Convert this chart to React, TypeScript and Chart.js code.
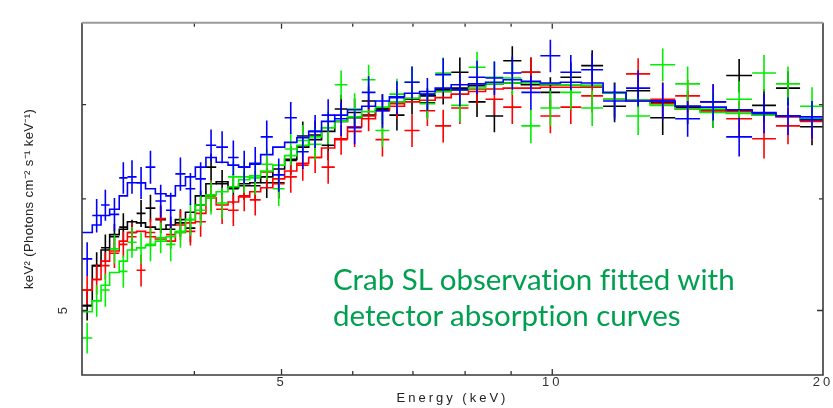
import React, { useEffect, useRef } from "react";
import { Chart, registerables } from "chart.js";

Chart.register(...registerables);

// Energy bin edges (keV), shared by all four spectra
const binEdges = [
  3.0, 3.08, 3.15, 3.22, 3.3, 3.37, 3.45, 3.53, 3.62, 3.72, 3.81, 3.91, 4.01,
  4.12, 4.23, 4.36, 4.48, 4.61, 4.74, 4.89, 5.04, 5.2, 5.36, 5.54, 5.73, 5.92,
  6.14, 6.36, 6.59, 6.85, 7.12, 7.41, 7.72, 8.07, 8.43, 8.82, 9.24, 9.7, 10.21,
  10.77, 11.39, 12.08, 12.85, 13.7, 14.6, 15.61, 16.68, 17.73, 18.86, 20.05,
];

// Black spectrum
const blackFlux = [
  5.04, 5.38, 5.54, 5.64, 5.73, 5.68, 5.86, 5.91, 5.8, 5.71, 5.77, 5.72, 5.94,
  6.32, 6.15, 6.1, 6.13, 6.13, 6.16, 6.16, 6.39, 6.65, 6.66, 6.55, 6.95,
  6.91, 7.04, 6.95, 6.88, 7.06, 7.02, 7.17, 7.38, 7.03, 6.87, 7.52, 7.38,
  7.14, 7.32, 7.46, 6.98, 7.16, 6.85, 6.97, 6.93, 7.34, 6.99, 7.19, 6.75,
];
const blackErr = [
  0.12, 0.12, 0.12, 0.12, 0.13, 0.12, 0.13, 0.13, 0.13, 0.12, 0.13, 0.13, 0.14,
  0.14, 0.14, 0.15, 0.14, 0.15, 0.15, 0.15, 0.15, 0.16, 0.16, 0.16, 0.16,
  0.16, 0.17, 0.17, 0.17, 0.17, 0.17, 0.17, 0.18, 0.17, 0.18, 0.18, 0.18,
  0.18, 0.18, 0.19, 0.18, 0.19, 0.19, 0.19, 0.19, 0.2, 0.19, 0.2, 0.2,
];
const blackModel = [
  5.04, 5.38, 5.52, 5.66, 5.71, 5.78, 5.77, 5.73, 5.71, 5.75, 5.8, 5.87, 6.03,
  6.15, 6.17, 6.11, 6.15, 6.16, 6.22, 6.3, 6.4, 6.53, 6.61, 6.7, 6.81,
  6.85, 6.88, 6.95, 7.03, 7.07, 7.1, 7.15, 7.19, 7.22, 7.24, 7.25, 7.23,
  7.23, 7.23, 7.22, 7.13, 7.05, 7.02, 6.98, 6.94, 6.93, 6.9, 6.87, 6.84,
];

// Red spectrum
const redFlux = [
  5.17, 5.26, 5.38, 5.49, 5.57, 5.64, 5.34, 5.68, 5.81, 5.66, 5.75, 5.69, 5.78,
  6.03, 5.9, 5.89, 6.03, 5.99, 6.27, 6.15, 6.22, 6.34, 6.42, 6.32, 6.61,
  6.7, 6.87, 6.61, 7.01, 6.71, 6.93, 6.76, 6.96, 7.18, 7.06, 6.97, 7.38,
  6.87, 6.97, 7.1, 7.06, 7.36, 7.06, 7.1, 7.03, 6.84, 6.62, 6.76, 6.81,
];
const redErr = [
  0.12, 0.13, 0.12, 0.13, 0.12, 0.13, 0.14, 0.13, 0.13, 0.13, 0.14, 0.13, 0.14,
  0.15, 0.14, 0.15, 0.15, 0.15, 0.16, 0.15, 0.16, 0.16, 0.16, 0.17, 0.16,
  0.17, 0.17, 0.18, 0.17, 0.18, 0.17, 0.18, 0.18, 0.18, 0.18, 0.19, 0.18,
  0.19, 0.19, 0.19, 0.2, 0.19, 0.2, 0.19, 0.2, 0.2, 0.21, 0.2, 0.21,
];
const redModel = [
  5.17, 5.26, 5.42, 5.51, 5.6, 5.68, 5.69, 5.64, 5.62, 5.6, 5.68, 5.77, 5.86,
  6.01, 5.94, 5.97, 6.02, 6.07, 6.11, 6.2, 6.28, 6.36, 6.42, 6.52, 6.62,
  6.75, 6.84, 6.93, 6.98, 7.03, 7.05, 7.08, 7.12, 7.15, 7.18, 7.19, 7.19,
  7.2, 7.2, 7.2, 7.13, 7.04, 7.01, 6.95, 6.93, 6.92, 6.88, 6.86, 6.82,
];

// Green spectrum
const greenFlux = [
  4.78, 5.08, 5.17, 5.53, 5.33, 5.59, 5.54, 5.57, 5.63, 5.57, 5.68, 5.8, 5.89,
  6.01, 5.96, 6.22, 6.22, 6.21, 6.35, 6.1, 6.51, 6.6, 6.56, 6.74, 7.23,
  6.95, 7.29, 6.71, 7.12, 7.26, 7.01, 7.37, 6.99, 7.44, 7.32, 7.31, 6.76,
  6.96, 7.14, 6.96, 7.06, 6.87, 7.47, 7.24, 6.95, 7.06, 7.37, 7.24, 6.98,
];
const greenErr = [
  0.12, 0.13, 0.14, 0.13, 0.14, 0.14, 0.14, 0.15, 0.14, 0.15, 0.14, 0.15, 0.15,
  0.16, 0.15, 0.16, 0.16, 0.17, 0.16, 0.17, 0.17, 0.17, 0.17, 0.18, 0.17,
  0.18, 0.18, 0.18, 0.18, 0.19, 0.18, 0.19, 0.19, 0.19, 0.19, 0.2, 0.19,
  0.2, 0.2, 0.2, 0.2, 0.21, 0.2, 0.21, 0.21, 0.21, 0.22, 0.21, 0.22,
];
const greenModel = [
  4.99, 5.08, 5.21, 5.32, 5.42, 5.52, 5.54, 5.56, 5.6, 5.64, 5.69, 5.8, 5.94,
  6.04, 6.07, 6.12, 6.19, 6.23, 6.28, 6.34, 6.44, 6.55, 6.64, 6.74, 6.81,
  6.86, 6.92, 6.97, 7.03, 7.07, 7.12, 7.15, 7.17, 7.19, 7.24, 7.25, 7.25,
  7.24, 7.23, 7.22, 7.13, 7.05, 6.99, 6.95, 6.91, 6.9, 6.88, 6.87, 6.84,
];

// Blue spectrum
const blueFlux = [
  5.44, 5.84, 5.94, 5.85, 6.21, 6.22, 6.16, 6.32, 5.98, 5.89, 6.25, 6.1, 6.2,
  6.55, 6.53, 6.42, 6.32, 6.35, 6.64, 6.24, 6.85, 6.48, 6.7, 6.88, 6.84,
  6.74, 7.14, 6.93, 7.08, 7.26, 7.12, 7.35, 7.17, 7.32, 7.31, 7.37, 7.14,
  7.58, 7.38, 7.41, 7.04, 7.19, 7.04, 6.84, 7.03, 6.64, 6.9, 6.87, 6.83,
];
const blueErr = [
  0.15, 0.16, 0.15, 0.16, 0.16, 0.17, 0.16, 0.17, 0.16, 0.17, 0.17, 0.16, 0.17,
  0.17, 0.17, 0.18, 0.17, 0.18, 0.18, 0.17, 0.18, 0.18, 0.18, 0.18, 0.19,
  0.18, 0.19, 0.19, 0.19, 0.19, 0.19, 0.2, 0.19, 0.2, 0.2, 0.2, 0.2,
  0.2, 0.21, 0.2, 0.21, 0.21, 0.21, 0.2, 0.21, 0.21, 0.22, 0.21, 0.21,
];
const blueModel = [
  5.68, 5.75, 5.84, 5.9, 6.03, 6.16, 6.16, 6.1, 6.05, 6.03, 6.13, 6.22, 6.32,
  6.42, 6.37, 6.34, 6.32, 6.36, 6.45, 6.53, 6.58, 6.63, 6.7, 6.81, 6.88,
  6.94, 6.98, 7.04, 7.09, 7.13, 7.15, 7.19, 7.23, 7.24, 7.26, 7.29, 7.27,
  7.25, 7.26, 7.25, 7.14, 7.04, 7.04, 6.98, 6.97, 6.94, 6.91, 6.87, 6.86,
];

// Axes
const xMin = 3;
const xMax = 20;
const yMin = 4.5;
const yMax = 8;
const xTickLabels = [5, 10, 20];
const yTickLabels = [5];
const xTickMarks = [4, 5, 6, 7, 8, 9, 10];
const xMajorMarks = [5, 10];
const yTickMarks = [5, 6, 7];
const yMajorMarks = [5];

const xTitle = "Energy (keV)";
const yTitle = "keV\u00B2 (Photons cm\u207B\u00B2 s\u207B\u00B9 keV\u207B\u00B9)";
const noteLines = ["Crab SL observation fitted with", "detector absorption curves"];

const seriesList = [
  { name: "blue", color: "#0000ff", flux: blueFlux, err: blueErr, model: blueModel },
  { name: "green", color: "#00ee00", flux: greenFlux, err: greenErr, model: greenModel },
  { name: "red", color: "#ff0000", flux: redFlux, err: redErr, model: redModel },
  { name: "black", color: "#000000", flux: blackFlux, err: blackErr, model: blackModel },
];

function crossPoints(flux: number[], err: number[]) {
  const pts: { x: number; y: number | null }[] = [];
  for (let i = 0; i < flux.length; i++) {
    const lo = binEdges[i];
    const hi = binEdges[i + 1];
    const c = Math.sqrt(lo * hi);
    pts.push({ x: lo, y: flux[i] }, { x: hi, y: flux[i] }, { x: c, y: null });
    pts.push({ x: c, y: flux[i] - err[i] }, { x: c, y: flux[i] + err[i] }, { x: c, y: null });
  }
  return pts;
}

function modelPoints(model: number[]) {
  const pts: { x: number; y: number }[] = [];
  for (let i = 0; i < model.length; i++) {
    pts.push({ x: binEdges[i], y: model[i] }, { x: binEdges[i + 1], y: model[i] });
  }
  return pts;
}

function spaced(scale: any, spacing: string) {
  if (scale.__spaced) return;
  scale.__spaced = true;
  const proto = Object.getPrototypeOf(scale);
  scale.draw = function (area: any) {
    const c = this.ctx as any;
    c.save();
    c.letterSpacing = spacing;
    proto.draw.call(this, area);
    c.restore();
  };
}

const framePlugin = {
  id: "frame",
  afterDatasetsDraw(chart: any) {
    const { ctx, chartArea: a, scales } = chart;
    const xs = scales.x;
    const ys = scales.y;
    ctx.save();
    ctx.strokeStyle = "#333";
    ctx.lineWidth = 1.3;
    ctx.beginPath();
    xTickMarks.forEach((v) => {
      const px = xs.getPixelForValue(v);
      const len = xMajorMarks.includes(v) ? 6 : 4;
      ctx.moveTo(px, a.bottom);
      ctx.lineTo(px, a.bottom - len);
      ctx.moveTo(px, a.top);
      ctx.lineTo(px, a.top + len);
    });
    yTickMarks.forEach((v) => {
      const py = ys.getPixelForValue(v);
      const len = yMajorMarks.includes(v) ? 6 : 4;
      ctx.moveTo(a.left, py);
      ctx.lineTo(a.left + len, py);
      ctx.moveTo(a.right, py);
      ctx.lineTo(a.right - len, py);
    });
    ctx.stroke();
    ctx.lineWidth = 1.6;
    ctx.strokeStyle = "#3a3a3a";
    ctx.beginPath();
    ctx.moveTo(a.left, a.top);
    ctx.lineTo(a.left, a.bottom);
    ctx.lineTo(a.right, a.bottom);
    ctx.lineTo(a.right, a.top);
    ctx.stroke();
    ctx.strokeStyle = "#9a9a9a";
    ctx.lineWidth = 2;
    ctx.beginPath();
    ctx.moveTo(a.left, a.top);
    ctx.lineTo(a.right, a.top);
    ctx.stroke();
    ctx.restore();
  },
};

export default function App() {
  const canvasRef = useRef<HTMLCanvasElement | null>(null);

  useEffect(() => {
    if (!canvasRef.current) return;
    const datasets: any[] = [];
    seriesList.forEach((s) => {
      datasets.push({
        label: s.name + " data",
        data: crossPoints(s.flux, s.err),
        showLine: true,
        spanGaps: false,
        borderColor: s.color,
        borderWidth: 1.6,
        pointRadius: 0,
        fill: false,
      });
      datasets.push({
        label: s.name + " model",
        data: modelPoints(s.model),
        showLine: true,
        spanGaps: false,
        borderColor: s.color,
        borderWidth: 1.6,
        pointRadius: 0,
        fill: false,
      });
    });

    Chart.defaults.font.family = "'Liberation Sans', Arial, sans-serif";

    const chart = new Chart(canvasRef.current, {
      type: "scatter",
      data: { datasets },
      plugins: [framePlugin],
      options: {
        animation: false,
        responsive: false,
        devicePixelRatio: 1,
        events: [],
        layout: { padding: { top: 12, right: 10, left: 0, bottom: 0 } },
        plugins: {
          legend: { display: false },
          tooltip: { enabled: false },
        },
        scales: {
          x: {
            type: "logarithmic",
            position: "bottom",
            min: xMin,
            max: xMax,
            grid: { display: false, drawTicks: false },
            border: { display: false },
            afterBuildTicks: (s: any) => {
              s.ticks = xTickLabels.map((v) => ({ value: v }));
            },
            afterFit: (s: any) => {
              s.height = 33;
              spaced(s, "3px");
            },
            ticks: {
              callback: (v: any) => String(v),
              autoSkip: false,
              maxRotation: 0,
              minRotation: 0,
              padding: 0,
              color: "#333",
              font: { size: 13 },
            },
            title: {
              display: true,
              text: xTitle,
              color: "#222",
              font: { size: 13 },
              padding: { top: 0, bottom: 2 },
            },
          },
          y: {
            type: "logarithmic",
            position: "left",
            min: yMin,
            max: yMax,
            grid: { display: false, drawTicks: false },
            border: { display: false },
            afterBuildTicks: (s: any) => {
              s.ticks = yTickLabels.map((v) => ({ value: v }));
            },
            afterFit: (s: any) => {
              s.width = 82;
              spaced(s, "0.4px");
            },
            ticks: {
              callback: (v: any) => String(v),
              autoSkip: false,
              minRotation: 90,
              maxRotation: 90,
              crossAlign: "center",
              padding: 15,
              color: "#333",
              font: { size: 13 },
            },
            title: {
              display: true,
              text: yTitle,
              color: "#222",
              font: { size: 13 },
              padding: { top: 22, bottom: 0 },
            },
          },
        },
      } as any,
    });
    return () => chart.destroy();
  }, []);

  return (
    <div
      style={{
        position: "fixed",
        left: 0,
        top: 0,
        width: 833,
        height: 408,
        background: "#fff",
        overflow: "hidden",
      }}
    >
      <canvas ref={canvasRef} width={833} height={408} style={{ display: "block", width: 833, height: 408 }} />
      <div
        style={{
          position: "absolute",
          left: 333,
          top: 261,
          fontFamily: "Lato, 'Open Sans', sans-serif",
          fontSize: 29.5,
          lineHeight: "36px",
          color: "#00a050",
          whiteSpace: "pre",
          fontVariantLigatures: "none",
          fontFeatureSettings: '"liga" 0, "dlig" 0',
        }}
      >
        {noteLines.map((t, i) => (
          <div key={i}>{t}</div>
        ))}
      </div>
    </div>
  );
}
